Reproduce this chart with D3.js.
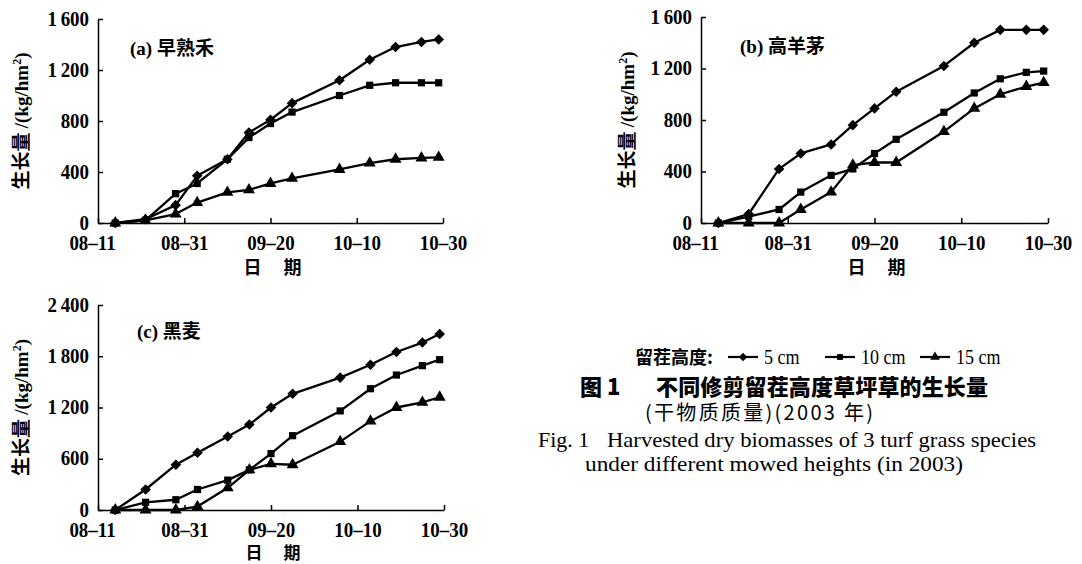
<!DOCTYPE html>
<html><head><meta charset="utf-8">
<script src="https://cdn.jsdelivr.net/npm/d3@7"></script>
<style>body{margin:0;background:#fff}svg{display:block}</style>
</head><body>
<svg id="c" width="1082" height="564"></svg>
<script>
// ---------- data ----------
const sampleDates = ["2003-08-15","2003-08-22","2003-08-29","2003-09-03","2003-09-10","2003-09-15","2003-09-20","2003-09-25","2003-10-06","2003-10-13","2003-10-19","2003-10-25","2003-10-29"];
const xTickDates = ["2003-08-11","2003-08-31","2003-09-20","2003-10-10","2003-10-30"];
const xTickLabels = ["08–11","08–31","09–20","10–10","10–30"];
const seriesNames = ["5 cm","10 cm","15 cm"];

const a5  = [0,30,140,370,500,710,810,940,1120,1280,1380,1420,1440];
const a10 = [0,20,230,310,500,670,780,870,1000,1080,1100,1100,1100];
const a15 = [0,20,70,160,240,260,310,350,420,470,500,510,515];

const b5  = [0,70,420,540,610,760,890,1020,1220,1400,1500,1500,1500];
const b10 = [0,50,105,240,370,420,540,650,860,1010,1120,1170,1180];
const b15 = [0,0,0,105,240,450,470,470,710,890,1000,1060,1090];

const c5  = [0,240,530,670,860,1000,1200,1360,1550,1700,1850,1960,2060];
const c10 = [0,90,120,240,350,470,660,870,1160,1420,1580,1690,1760];
const c15 = [0,0,0,40,260,470,540,530,800,1040,1200,1260,1320];

const yTicksAB = [0,400,800,1200,1600];
const yTicksC  = [0,600,1200,1800,2400];
const panelTitles = ["(a) ","(b) ","(c) "];
const panelNames = ["早熟禾","高羊茅","黑麦"];

// ---------- drawing ----------
const svg = d3.select("#c");
const parse = d3.timeParse("%Y-%m-%d");
const SERIF = "'Liberation Serif','Times New Roman',serif";
const CJK = "'Noto Sans CJK SC','Noto Sans CJK JP',sans-serif";
const NX = 0.86;
const FS = 22;
const fmt = v => d3.format(",")(v).replace(/,/g, "\u2009");
const symTypes = [d3.symbolSquare, d3.symbolSquare, d3.symbolTriangle];
const symRot = [45, 0, 0];
const symSizes = [56, 52, 62];

function panel(cfg) {
  const g = svg.append("g");
  const x = d3.scaleTime().domain([parse(xTickDates[0]), parse(xTickDates[xTickDates.length-1])]).range(cfg.xr);
  const y = d3.scaleLinear().domain([0, cfg.yTicks[cfg.yTicks.length-1]]).range(cfg.yr);

  const xa = g.append("g").attr("transform", `translate(0,${cfg.yr[0]})`)
    .call(d3.axisBottom(x).tickValues(xTickDates.map(parse)).tickFormat((d,i)=>xTickLabels[i]).tickSize(-5).tickSizeOuter(0));
  xa.selectAll("text").attr("x", null).attr("y", null)
    .attr("transform", (d,i)=>`translate(${i===0?-6:0},11) scale(${NX},1)`)
    .attr("font-family", SERIF).attr("font-weight", "bold").attr("font-size", FS).attr("fill", "#000");

  const ya = g.append("g").attr("transform", `translate(${cfg.xr[0]},0)`)
    .call(d3.axisLeft(y).tickValues(cfg.yTicks).tickFormat(fmt).tickSize(-5).tickSizeOuter(0));
  ya.selectAll("text").attr("x", null).attr("y", null)
    .attr("transform", `translate(-9,-1) scale(${NX},1)`)
    .attr("font-family", SERIF).attr("font-weight", "bold").attr("font-size", FS).attr("fill", "#000");

  g.selectAll(".domain, .tick line").attr("stroke", "#000").attr("stroke-width", 1.5);

  const line = d3.line().x((d,i)=>x(parse(sampleDates[i]))).y(d=>y(d));
  cfg.series.forEach((vals, si) => {
    g.append("path").datum(vals).attr("d", line).attr("fill", "none")
      .attr("stroke", "#000").attr("stroke-width", 2.3).attr("stroke-linejoin", "round");
    g.selectAll(null).data(vals).enter().append("path")
      .attr("d", d3.symbol().type(symTypes[si]).size(symSizes[si]))
      .attr("transform", (d,i)=>`translate(${x(parse(sampleDates[i]))},${y(d)}) rotate(${symRot[si]})`)
      .attr("fill", "#000");
  });

  // panel title
  const t = g.append("text").attr("x", cfg.title[0]).attr("y", cfg.title[1]).attr("font-size", 19).attr("fill", "#000");
  t.append("tspan").attr("font-family", SERIF).attr("font-weight", "bold").text(panelTitles[cfg.idx]);
  t.append("tspan").attr("font-family", CJK).attr("font-weight", "bold").text(panelNames[cfg.idx]);

  // x title
  g.append("text").attr("x", (cfg.xr[0]+cfg.xr[1])/2 + 2).attr("y", cfg.yr[0] + cfg.xtDy)
    .attr("text-anchor", "middle").attr("font-family", CJK).attr("font-weight", "bold")
    .attr("font-size", cfg.xtFs).attr("xml:space", "preserve").text("日\u2003 期");

  // y title
  const yt = g.append("text")
    .attr("transform", `translate(${cfg.ytx},${(cfg.yr[0]+cfg.yr[1])/2}) rotate(-90)`)
    .attr("text-anchor", "middle").attr("fill", "#000").attr("font-size", 19);
  yt.append("tspan").attr("font-family", CJK).attr("font-weight", "bold").attr("dy", 7).text("生长量 ");
  yt.append("tspan").attr("font-family", SERIF).attr("font-weight", "bold").text("/(kg/hm");
  yt.append("tspan").attr("font-family", SERIF).attr("font-weight", "bold").attr("font-size", 12).attr("dy", -7).text("2");
  yt.append("tspan").attr("font-family", SERIF).attr("font-weight", "bold").attr("dy", 7).text(")");
}

panel({idx:0, xr:[98,443], yr:[223,19], yTicks:yTicksAB, series:[a5,a10,a15], title:[130,55], ytx:21, xtDy:51, xtFs:18});
panel({idx:1, xr:[701,1048], yr:[223,17], yTicks:yTicksAB, series:[b5,b10,b15], title:[740,53], ytx:627, xtDy:51, xtFs:18});
panel({idx:2, xr:[98,444], yr:[510,305], yTicks:yTicksC, series:[c5,c10,c15], title:[137,338], ytx:21, xtDy:49, xtFs:17});

// ---------- legend ----------
const lg = svg.append("g").attr("transform", "translate(635,364)");
lg.append("text").attr("x", 0).attr("y", 0).attr("font-family", CJK).attr("font-weight", "bold").attr("font-size", 18).text("留茬高度:");
const legX = [93, 190, 285];
seriesNames.forEach((n, i) => {
  const gx = legX[i];
  lg.append("line").attr("x1", gx).attr("x2", gx+30).attr("y1", -7).attr("y2", -7).attr("stroke", "#000").attr("stroke-width", 2.2);
  lg.append("path").attr("d", d3.symbol().type(symTypes[i]).size(symSizes[i]*0.65))
    .attr("transform", `translate(${gx+15},-7) rotate(${symRot[i]})`).attr("fill", "#000");
  lg.append("text").attr("transform", `translate(${gx+36},0) scale(0.9,1)`).attr("font-family", SERIF).attr("font-size", 20).text(n);
});

// ---------- caption ----------
const cap = svg.append("g");
cap.append("text").attr("x", 580).attr("y", 395).attr("font-family", CJK).attr("font-weight", "900").attr("font-size", 22).attr("xml:space","preserve").text("图 1");
cap.append("text").attr("x", 656).attr("y", 395).attr("font-family", CJK).attr("font-weight", "900").attr("font-size", 22)
  .attr("textLength", 332).attr("lengthAdjust", "spacing").text("不同修剪留茬高度草坪草的生长量");
cap.append("text").attr("x", 645).attr("y", 420).attr("font-family", CJK).attr("font-size", 20)
  .attr("textLength", 228).attr("lengthAdjust", "spacing").text("(干物质质量)(2003 年)");
cap.append("text").attr("x", 538).attr("y", 447).attr("font-family", SERIF).attr("font-size", 22).text("Fig. 1");
cap.append("text").attr("x", 607).attr("y", 447).attr("font-family", SERIF).attr("font-size", 22)
  .attr("textLength", 429).attr("lengthAdjust", "spacingAndGlyphs").text("Harvested dry biomasses of 3 turf grass species");
cap.append("text").attr("x", 585).attr("y", 471).attr("font-family", SERIF).attr("font-size", 22)
  .attr("textLength", 378).attr("lengthAdjust", "spacingAndGlyphs").text("under different mowed heights (in 2003)");
</script>
</body></html>
